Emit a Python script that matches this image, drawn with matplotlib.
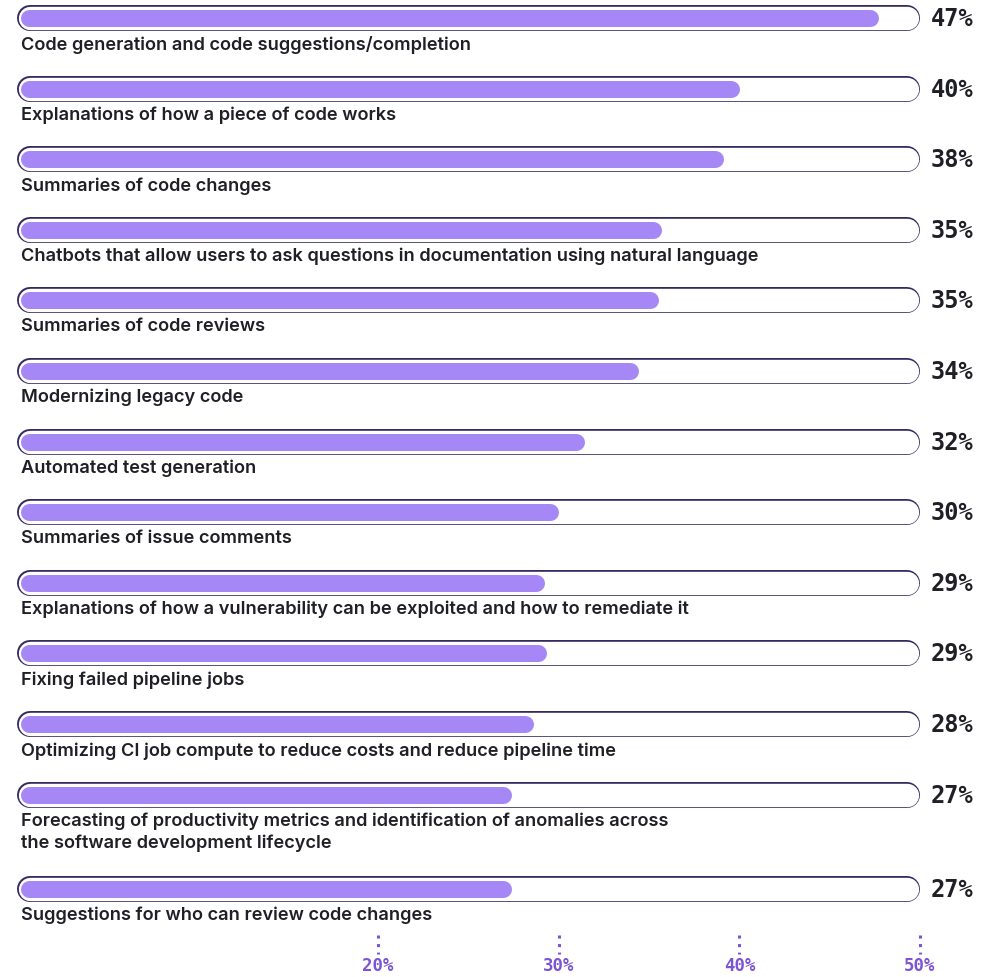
import matplotlib
matplotlib.use('Agg')
import matplotlib.pyplot as plt

# data
labels = [
    'Code generation and code suggestions/completion',
    'Explanations of how a piece of code works',
    'Summaries of code changes',
    'Chatbots that allow users to ask questions in documentation using natural language',
    'Summaries of code reviews',
    'Modernizing legacy code',
    'Automated test generation',
    'Summaries of issue comments',
    'Explanations of how a vulnerability can be exploited and how to remediate it',
    'Fixing failed pipeline jobs',
    'Optimizing CI job compute to reduce costs and reduce pipeline time',
    'Forecasting of productivity metrics and identification of anomalies across\nthe software development lifecycle',
    'Suggestions for who can review code changes',
]
bar_values = [47.7, 40.0, 39.1, 35.7, 35.5, 34.4, 31.4, 30.0, 29.2, 29.3, 28.6, 27.4, 27.4]
pct_labels = ['47%', '40%', '38%', '35%', '35%', '34%', '32%', '30%', '29%', '29%', '28%', '27%', '27%']
ticks = [20, 30, 40, 50]
tick_labels = ['20%', '30%', '40%', '50%']

W, H, DPI = 998, 977, 100
PX0 = 17.0       # pixel of 0%
PXU = 18.06      # pixels per percent
ROW = 70.6       # row pitch in px
LINE = 23.5      # extra label line height
TOP = 18.0

purple = '#a687f6'
navy = '#342a60'
tickcol = '#7b55d3'
textcol = '#1f1f26'

fig = plt.figure(figsize=(W / DPI, H / DPI), dpi=DPI)
ax = fig.add_axes([0, 0, 1, 1])
ax.set_xlim(-PX0 / PXU, (W - PX0) / PXU)
ax.set_ylim(H, 0)
ax.axis('off')

pt = 72 / DPI  # points per pixel

# row centres, allow for 2-line labels
ys = []
y = TOP
for lab in labels:
    ys.append(y)
    y += ROW + LINE * lab.count('\n')

cap_h = 26
bar_h = 17
r_cap = cap_h / 2 / PXU
r_bar = bar_h / 2 / PXU
bar_start = 4 / PXU

for lab, v, p, yc in zip(labels, bar_values, pct_labels, ys):
    # capsule outline
    ax.plot([r_cap, 50 - r_cap], [yc, yc], color=navy, lw=cap_h * pt,
            solid_capstyle='round', zorder=1)
    ax.plot([r_cap, 50 - r_cap], [yc, yc], color='white', lw=(cap_h - 2.6) * pt,
            solid_capstyle='round', zorder=2)
    # value bar
    ax.plot([bar_start + r_bar, v - r_bar], [yc, yc], color=purple, lw=bar_h * pt,
            solid_capstyle='round', zorder=3)
    ax.text(50.6, yc + 1, p, ha='left', va='center', fontsize=17,
            fontweight='bold', family='DejaVu Sans Mono', color=textcol)
    ax.text(4 / PXU, yc + 18, lab, ha='left', va='top', fontsize=13.1,
            fontweight='semibold', family=['Inter', 'DejaVu Sans'], color=textcol,
            linespacing=1.3)

# bottom axis: dotted ticks + labels
for t, tl in zip(ticks, tick_labels):
    ax.plot([t, t], [935, 954], color=tickcol, lw=2.2, ls=(0, (1, 1.8)), zorder=1)
    ax.text(t, 966, tl, ha='center', va='center', fontsize=12.5,
            fontweight='bold', family='DejaVu Sans Mono', color=tickcol)

fig.savefig('out.png', dpi=DPI, facecolor='white')
